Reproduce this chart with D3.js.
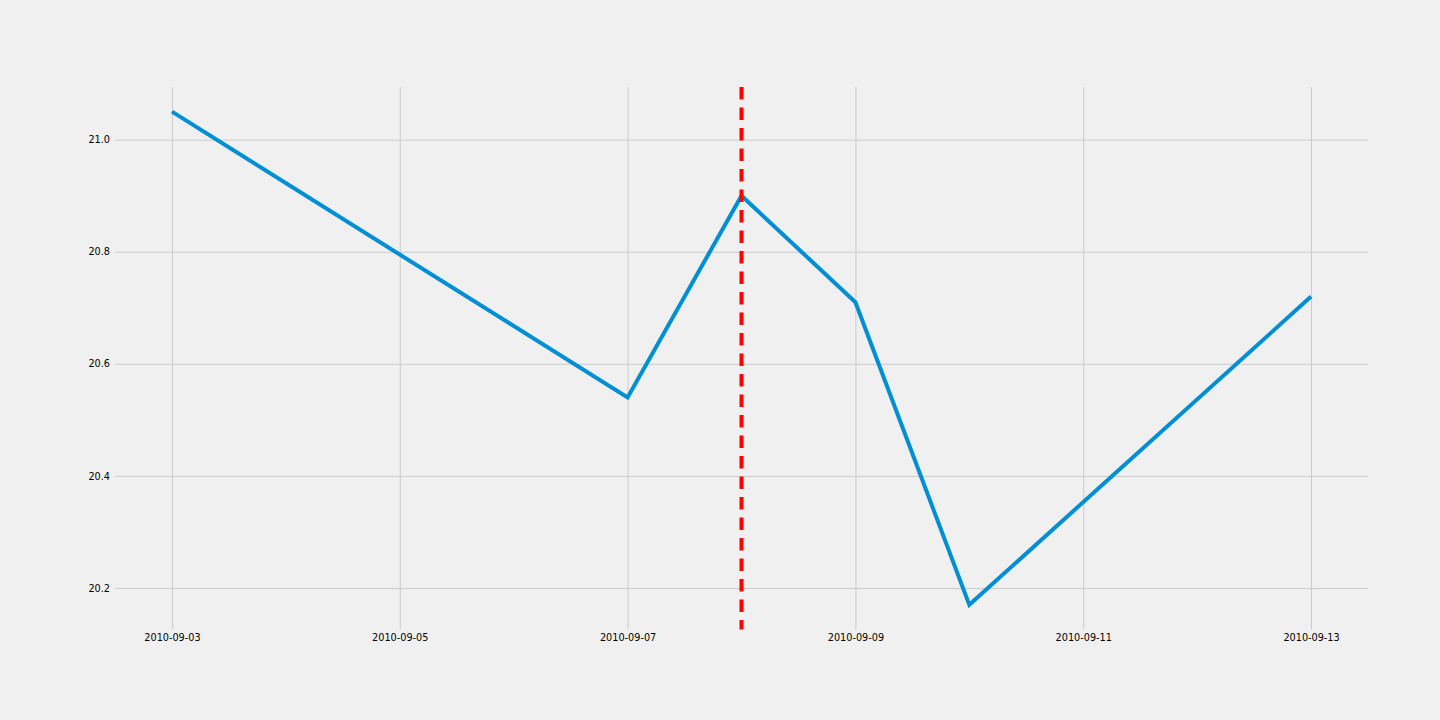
<!DOCTYPE html>
<html>
<head>
<meta charset="utf-8">
<script src="https://cdn.jsdelivr.net/npm/d3@7"></script>
<style>
  html, body { margin: 0; padding: 0; background: #f0f0f0; }
  svg { display: block; }
  .tick text { font-family: "DejaVu Sans", sans-serif; font-size: 9.7px; fill: #000; }
</style>
</head>
<body>
<svg id="chart" width="1440" height="720"></svg>
<script>
// data
const dates = ['2010-09-03', '2010-09-07', '2010-09-08', '2010-09-09', '2010-09-10', '2010-09-13'];
const values = [21.05, 20.54, 20.90, 20.71, 20.17, 20.72];
const markerDate = '2010-09-08';
const xTickLabels = ['2010-09-03', '2010-09-05', '2010-09-07', '2010-09-09', '2010-09-11', '2010-09-13'];
const yTicks = [20.2, 20.4, 20.6, 20.8, 21.0];

const parse = d3.utcParse('%Y-%m-%d');
const fmt = d3.utcFormat('%Y-%m-%d');

const margin = { top: 87, right: 72, bottom: 90.5, left: 115 };
const width = 1440, height = 720;

const svg = d3.select('#chart');

const data = dates.map((d, i) => ({ date: parse(d), value: values[i] }));

// matplotlib-like 5% margins
const xExt = d3.extent(data, (d) => +d.date);
const xPad = (xExt[1] - xExt[0]) * 0.05;
const yExt = d3.extent(data, (d) => d.value);
const yPad = (yExt[1] - yExt[0]) * 0.05;

const x = d3.scaleUtc()
  .domain([new Date(xExt[0] - xPad), new Date(xExt[1] + xPad)])
  .range([margin.left, width - margin.right]);

const y = d3.scaleLinear()
  .domain([yExt[0] - yPad, yExt[1] + yPad])
  .range([height - margin.bottom, margin.top]);

const gridColor = '#cbcbcb';

// x axis + vertical grid
const xAxis = svg.append('g')
  .attr('transform', `translate(0,${height - margin.bottom})`)
  .call(d3.axisBottom(x)
    .tickValues(xTickLabels.map(parse))
    .tickFormat(fmt)
    .tickSize(-(height - margin.top - margin.bottom))
    .tickPadding(5));
xAxis.select('.domain').remove();
xAxis.selectAll('.tick line').attr('stroke', gridColor).attr('stroke-width', 1);

// y axis + horizontal grid
const yAxis = svg.append('g')
  .attr('transform', `translate(${margin.left},0)`)
  .call(d3.axisLeft(y)
    .tickValues(yTicks)
    .tickFormat(d3.format('.1f'))
    .tickSize(-(width - margin.left - margin.right))
    .tickPadding(5));
yAxis.select('.domain').remove();
yAxis.selectAll('.tick line').attr('stroke', gridColor).attr('stroke-width', 1);

// the series
const line = d3.line()
  .x((d) => x(d.date))
  .y((d) => y(d.value));

svg.append('path')
  .datum(data)
  .attr('fill', 'none')
  .attr('stroke', '#008fd5')
  .attr('stroke-width', 4)
  .attr('stroke-linejoin', 'miter')
  .attr('d', line);

// dashed marker line
svg.append('line')
  .attr('x1', x(parse(markerDate)))
  .attr('x2', x(parse(markerDate)))
  .attr('y1', margin.top)
  .attr('y2', height - margin.bottom)
  .attr('stroke', '#ff0000')
  .attr('stroke-width', 4)
  .attr('stroke-dasharray', '12.5,8');
</script>
</body>
</html>
